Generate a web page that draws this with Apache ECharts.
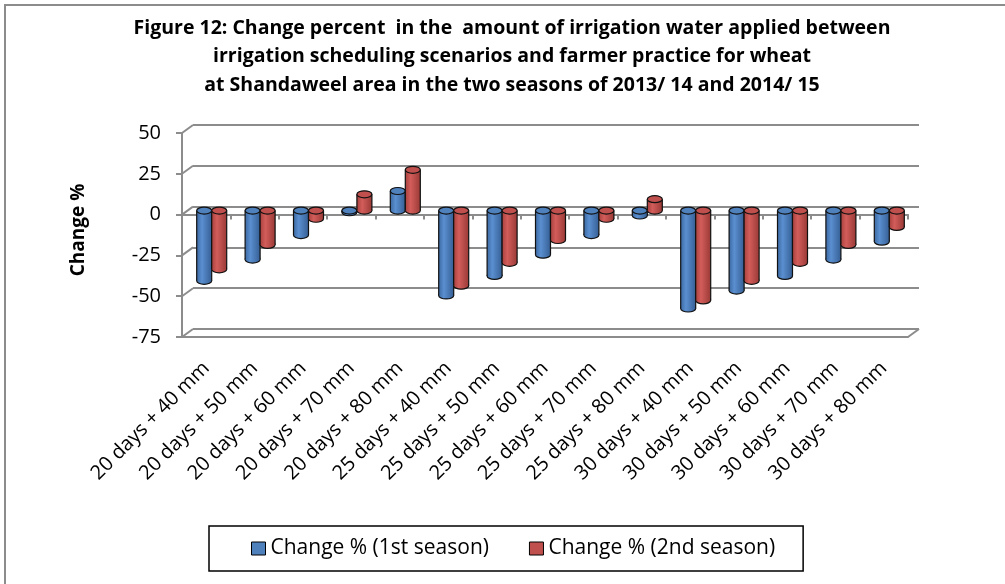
<!DOCTYPE html>
<html>
<head>
<meta charset="utf-8">
<script src="https://cdn.jsdelivr.net/npm/echarts@6/dist/echarts.min.js"></script>
<style>
  html, body { margin: 0; padding: 0; background: #fff; }
  #wrap { position: relative; width: 1005px; height: 584px; }
  #mychart { width: 1005px; height: 584px; }
  .edge-left { position: absolute; left: 4px; top: 4px; width: 2px; height: 580px; background: #8c8c8c; }
  .edge-top { position: absolute; left: 4px; top: 4px; width: 1001px; height: 2px; background: #8c8c8c; }
</style>
</head>
<body>
<div id="wrap">
  <div id="mychart"></div>
  <div class="edge-left"></div>
  <div class="edge-top"></div>
</div>
<script>
// 图表数据
const categories = [
  '20 days + 40 mm', '20 days + 50 mm', '20 days + 60 mm', '20 days + 70 mm', '20 days + 80 mm',
  '25 days + 40 mm', '25 days + 50 mm', '25 days + 60 mm', '25 days + 70 mm', '25 days + 80 mm',
  '30 days + 40 mm', '30 days + 50 mm', '30 days + 60 mm', '30 days + 70 mm', '30 days + 80 mm'
]
const season1 = [-43, -30, -15, -1, 12, -52, -40, -27, -15, -3, -60, -49, -40, -30, -19]
const season2 = [-36, -21, -5, 10, 25, -46, -32, -18, -5, 7, -55, -43, -32, -21, -10]
const yTicks = [-75, -50, -25, 0, 25, 50]
const seriesNames = ['Change % (1st season)', 'Change % (2nd season)']
const titleLines = [
  'Figure 12: Change percent  in the  amount of irrigation water applied between',
  'irrigation scheduling scenarios and farmer practice for wheat',
  'at Shandaweel area in the two seasons of 2013/ 14 and 2014/ 15'
]

const FONT = '"Open Sans", Lato, sans-serif'
const GRID_GRAY = '#8c8c8c'
// 3D depth of the back wall
const DX = 11
const DY = -8

// 圆柱体
function cylinder (side, colors) {
  return function (params, api) {
    const idx = api.value(0)
    const val = api.value(1)
    const p0 = api.coord([idx, 0])
    const p1 = api.coord([idx, val])
    const band = api.size([1, 0])[0]
    const rx = band * 0.155
    const ry = 3.5
    const cx = p0[0] + DX / 2 + side * rx
    const yZero = p0[1] + DY / 2
    const yVal = p1[1] + DY / 2
    const yTop = Math.min(yZero, yVal)
    const yBot = Math.max(yZero, yVal)
    const grad = new echarts.graphic.LinearGradient(0, 0, 1, 0, [
      { offset: 0, color: colors[0] },
      { offset: 0.35, color: colors[1] },
      { offset: 1, color: colors[2] }
    ])
    const stroke = { stroke: '#111', lineWidth: 1.2 }
    return {
      type: 'group',
      children: [
        { type: 'ellipse', shape: { cx: cx, cy: yBot, rx: rx, ry: ry }, style: Object.assign({ fill: grad }, stroke) },
        { type: 'rect', shape: { x: cx - rx, y: yTop, width: rx * 2, height: yBot - yTop }, style: { fill: grad } },
        { type: 'line', shape: { x1: cx - rx, y1: yTop, x2: cx - rx, y2: yBot }, style: stroke },
        { type: 'line', shape: { x1: cx + rx, y1: yTop, x2: cx + rx, y2: yBot }, style: stroke },
        { type: 'ellipse', shape: { cx: cx, cy: yTop, rx: rx, ry: ry }, style: Object.assign({ fill: colors[3] }, stroke) }
      ]
    }
  }
}

// 左侧斜线与底面右端
function frameItem (params, api) {
  const cs = params.coordSys
  const y = api.coord([0, api.value(1)])[1]
  const lineStyle = { stroke: GRID_GRAY, lineWidth: 2 }
  const children = [
    { type: 'line', shape: { x1: cs.x, y1: y, x2: cs.x + DX, y2: y + DY }, style: lineStyle }
  ]
  if (api.value(1) === yTicks[0]) {
    children.push({ type: 'line', shape: { x1: cs.x + cs.width, y1: y, x2: cs.x + cs.width + DX, y2: y + DY }, style: lineStyle })
  }
  return { type: 'group', children: children }
}

const frontGrid = { left: 182, top: 133, width: 726, height: 204 }

const option = {
  animation: false,
  graphic: [
    {
      type: 'text',
      x: 512,
      y: 14,
      silent: true,
      style: {
        text: titleLines.join('\n'),
        align: 'center',
        fontFamily: FONT,
        fontWeight: 'bold',
        fontSize: 19.5,
        lineHeight: 28.5,
        fill: '#000'
      }
    }
  ],
  legend: {
    left: 209,
    top: 526,
    padding: [12, 28, 12, 42],
    borderColor: '#000',
    borderWidth: 1.5,
    icon: 'rect',
    itemWidth: 14,
    itemHeight: 13,
    itemGap: 40,
    itemStyle: { borderColor: '#000', borderWidth: 1 },
    textStyle: { fontFamily: FONT, fontSize: 21, color: '#000' },
    data: seriesNames
  },
  grid: [
    frontGrid,
    { left: 182 + DX, top: 133 + DY, width: 726, height: 204 },
    frontGrid
  ],
  xAxis: [
    {
      gridIndex: 0,
      type: 'category',
      data: categories,
      axisLine: { onZero: false, lineStyle: { color: GRID_GRAY, width: 2 } },
      axisTick: { show: false },
      axisLabel: { rotate: 45, margin: 28, fontFamily: FONT, fontSize: 20, color: '#000', interval: 0 }
    },
    { gridIndex: 1, type: 'category', data: categories, show: false },
    {
      gridIndex: 2,
      type: 'category',
      data: categories,
      axisLine: { onZero: true, lineStyle: { color: GRID_GRAY, width: 2 } },
      axisTick: { show: true, length: 5, interval: 0, lineStyle: { color: GRID_GRAY, width: 2 } },
      axisLabel: { show: false }
    }
  ],
  yAxis: [
    {
      gridIndex: 0,
      type: 'value',
      min: -75,
      max: 50,
      interval: 25,
      name: 'Change %',
      nameLocation: 'middle',
      nameGap: 94,
      nameRotate: 90,
      nameTextStyle: { fontFamily: FONT, fontWeight: 'bold', fontSize: 19, color: '#000', padding: [0, 0, 0, 10] },
      axisLine: { show: true, lineStyle: { color: GRID_GRAY, width: 2 } },
      axisTick: { show: true, length: 6, lineStyle: { color: GRID_GRAY, width: 2 } },
      axisLabel: { margin: 21, fontFamily: FONT, fontSize: 20, color: '#000' },
      splitLine: { show: false }
    },
    {
      gridIndex: 1,
      type: 'value',
      min: -75,
      max: 50,
      interval: 25,
      axisLine: { show: false },
      axisTick: { show: false },
      axisLabel: { show: false },
      splitLine: { show: true, lineStyle: { color: GRID_GRAY, width: 2 } }
    },
    { gridIndex: 2, type: 'value', min: -75, max: 50, interval: 25, show: false, splitLine: { show: false } }
  ],
  series: [
    {
      name: 'frame',
      type: 'custom',
      xAxisIndex: 0,
      yAxisIndex: 0,
      silent: true,
      renderItem: frameItem,
      data: yTicks.map(v => [0, v]),
      z: 1
    },
    {
      name: seriesNames[0],
      type: 'custom',
      xAxisIndex: 0,
      yAxisIndex: 0,
      legendIcon: 'rect',
      itemStyle: { color: '#4f81bd' },
      renderItem: cylinder(-1, ['#3d6aa3', '#5a8fd0', '#365f95', '#4f81bd']),
      data: season1.map((v, i) => [i, v]),
      z: 5
    },
    {
      name: seriesNames[1],
      type: 'custom',
      xAxisIndex: 0,
      yAxisIndex: 0,
      legendIcon: 'rect',
      itemStyle: { color: '#c0504d' },
      renderItem: cylinder(1, ['#a8413e', '#d35d5a', '#9a3a37', '#c0504d']),
      data: season2.map((v, i) => [i, v]),
      z: 5
    }
  ]
}

const myChart = echarts.init(document.getElementById('mychart'))
myChart.setOption(option)
window.addEventListener('resize', () => {
  myChart.resize()
})
</script>
</body>
</html>
